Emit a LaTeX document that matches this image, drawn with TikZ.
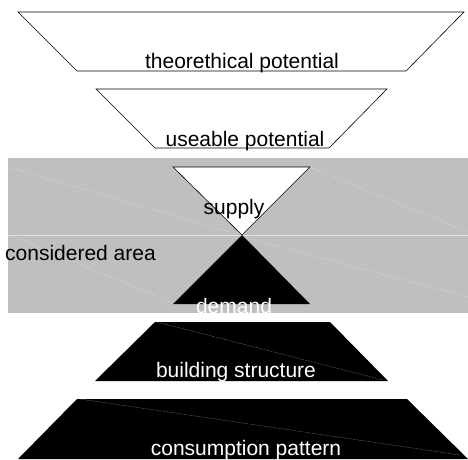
\documentclass[tikz,border=0pt]{standalone}
\usepackage{fontspec}
\setmainfont{Liberation Sans}
\usepackage{tikz}
\usetikzlibrary{positioning}

\begin{document}
\begin{tikzpicture}[x=1pt, y=-1pt, font=\fontsize{21}{23}\selectfont,
  lbl/.style={anchor=base, inner sep=0pt},
  wlbl/.style={lbl, text=white},
  open/.style={draw=black, line width=0.6pt, fill=white},
  solid/.style={fill=black},
  streak/.style={white, line width=0.3pt, opacity=0.5, dash pattern=on 2pt off 1pt}]
\useasboundingbox (0,0) rectangle (468,459);
% supply side
\draw[open] (18,12) -- (464,12) -- (406,71) -- (77,71) -- cycle;
\node[lbl] (theo) at (242,68) {theorethical potential};
\draw[open] (96,89) -- (387,89) -- (329,148) -- (155,148) -- cycle;
\node[lbl] (use) at (245,146) {useable potential};
% considered area
\fill[gray!50] (8,158) rectangle (468,313);
\draw[streak] (8,167) -- (230,232);
\draw[streak] (310,167) -- (468,232);
\draw[streak] (10,235) -- (173,303);
\draw[streak] (243,237) -- (468,297);
\draw[white, opacity=0.5, line width=0.4pt] (8,235) -- (468,235);
\node[lbl, anchor=base west] (area) at (5,260) {considered area};
\draw[open] (173,167) -- (310,167) -- (242,235) -- cycle;
\node[lbl] (sup) at (234,214) {supply};
\fill[solid] (242,235) -- (310,304) -- (173,304) -- cycle;
\node[wlbl] (dem) at (234,313) {demand};
% demand side
\fill[solid] (155,322) -- (330,322) -- (388,381) -- (95,381) -- cycle;
\draw[streak] (157,322) -- (383,380);
\node[wlbl] (bld) at (236,377) {building structure};
\fill[solid] (77,399) -- (407,399) -- (468,459) -- (18,459) -- cycle;
\draw[streak] (80,399) -- (460,455);
\node[wlbl] (cons) at (246,455) {consumption pattern};
\end{tikzpicture}
\end{document}
